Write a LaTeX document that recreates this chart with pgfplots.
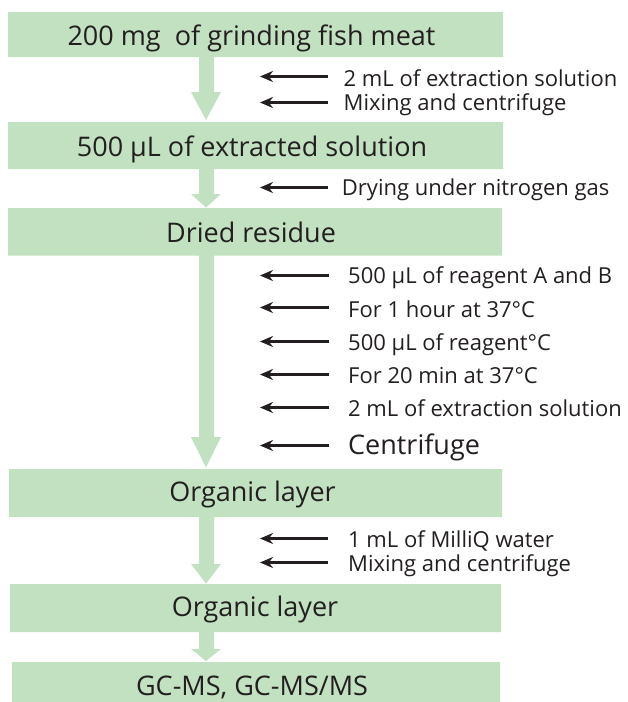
\documentclass[border=0pt]{standalone}
\usepackage{fontspec}
\setmainfont{Open Sans}
\usepackage{pgfplots}
\pgfplotsset{compat=1.18}
\usetikzlibrary{arrows.meta}
\definecolor{boxgreen}{RGB}{194,225,193}
\definecolor{ink}{RGB}{35,31,32}
\newcommand{\bigtxt}{\fontsize{27}{30}\selectfont}
\newcommand{\smtxt}{\fontsize{22}{25}\selectfont}
\tikzset{
  flowbox/.style={fill=boxgreen,draw=none,mark=none},
}
\pgfplotsset{
  sidearrow/.style={draw=ink,line width=3pt,mark=none,-{Stealth[length=13pt,width=11pt]}},
}
\begin{document}
\begin{tikzpicture}
\begin{axis}[x=1pt,y=1pt,y dir=reverse,xmin=0,xmax=627,ymin=0,ymax=702,
  hide axis,clip=false]
\path (axis cs:0,0) rectangle (axis cs:627,702);
% boxes
\addplot[flowbox] coordinates {(8,12) (503,12) (503,57) (8,57) (8,12)};
\addplot[flowbox] coordinates {(8,122) (503,122) (503,169) (8,169) (8,122)};
\addplot[flowbox] coordinates {(8,208) (502,208) (502,255.5) (8,255.5) (8,208)};
\addplot[flowbox] coordinates {(9,469) (502,469) (502,517) (9,517) (9,469)};
\addplot[flowbox] coordinates {(10,584) (501,584) (501,632) (10,632) (10,584)};
\addplot[flowbox] coordinates {(12,662) (500,662) (500,702) (12,702) (12,662)};
% big arrows
\addplot[flowbox] coordinates {(199,56) (214,56) (214,92) (221,92) (206,120) (191,92) (199,92) (199,56)};
\addplot[flowbox] coordinates {(199,168) (214,168) (214,194) (221,194) (206,207.5) (191,194) (199,194) (199,168)};
\addplot[flowbox] coordinates {(199,255) (214,255) (214,437) (221,437) (206,467.5) (191,437) (199,437) (199,255)};
\addplot[flowbox] coordinates {(199,516) (214,516) (214,564) (221,564) (206,583.5) (191,564) (199,564) (199,516)};
\addplot[flowbox] coordinates {(199,631) (214,631) (214,649) (221,649) (206,661) (191,649) (199,649) (199,631)};
% side arrows
\addplot[sidearrow] coordinates {(328,76.5) (260,76.5)};
\addplot[sidearrow] coordinates {(328,102.5) (260,102.5)};
\addplot[sidearrow] coordinates {(328,187.5) (260,187.5)};
\addplot[sidearrow] coordinates {(329,275.5) (260,275.5)};
\addplot[sidearrow] coordinates {(329,307.5) (260,307.5)};
\addplot[sidearrow] coordinates {(329,341.5) (260,341.5)};
\addplot[sidearrow] coordinates {(329,374.5) (260,374.5)};
\addplot[sidearrow] coordinates {(329,407.5) (260,407.5)};
\addplot[sidearrow] coordinates {(329,445.5) (260,445.5)};
\addplot[sidearrow] coordinates {(328,538.5) (260,538.5)};
\addplot[sidearrow] coordinates {(328,562.5) (260,562.5)};
% box texts
\begin{scope}[every node/.style={anchor=base,inner sep=0pt,text=ink,font=\bigtxt}]
\node at (axis cs:251.5,45) {200 mg\ \ of grinding fish meat};
\node at (axis cs:252,156) {500 µL of extracted solution};
\node at (axis cs:251,242) {Dried residue};
\node at (axis cs:252.5,501.7) {Organic layer};
\node at (axis cs:255,616.7) {Organic layer};
\node at (axis cs:252,695) {GC-MS, GC-MS/MS};
\end{scope}
% side texts
\begin{scope}[every node/.style={anchor=base west,inner sep=0pt,text=ink,font=\smtxt}]
\node at (axis cs:343.5,86) {2 mL of extraction solution};
\node at (axis cs:343.5,110) {Mixing and centrifuge};
\node at (axis cs:341.7,195.7) {Drying under nitrogen gas};
\node at (axis cs:348,283.3) {500 µL of reagent A and B};
\node at (axis cs:348,317.3) {For 1 hour at 37°C};
\node at (axis cs:348,350) {500 µL of reagent°C};
\node at (axis cs:348,383.3) {For 20 min at 37°C};
\node at (axis cs:348,416.7) {2 mL of extraction solution};
\node[font=\bigtxt] at (axis cs:348,454.3) {Centrifuge};
\node at (axis cs:348,547.3) {1 mL of MilliQ water};
\node at (axis cs:348,571) {Mixing and centrifuge};
\end{scope}
\end{axis}
\end{tikzpicture}
\end{document}
